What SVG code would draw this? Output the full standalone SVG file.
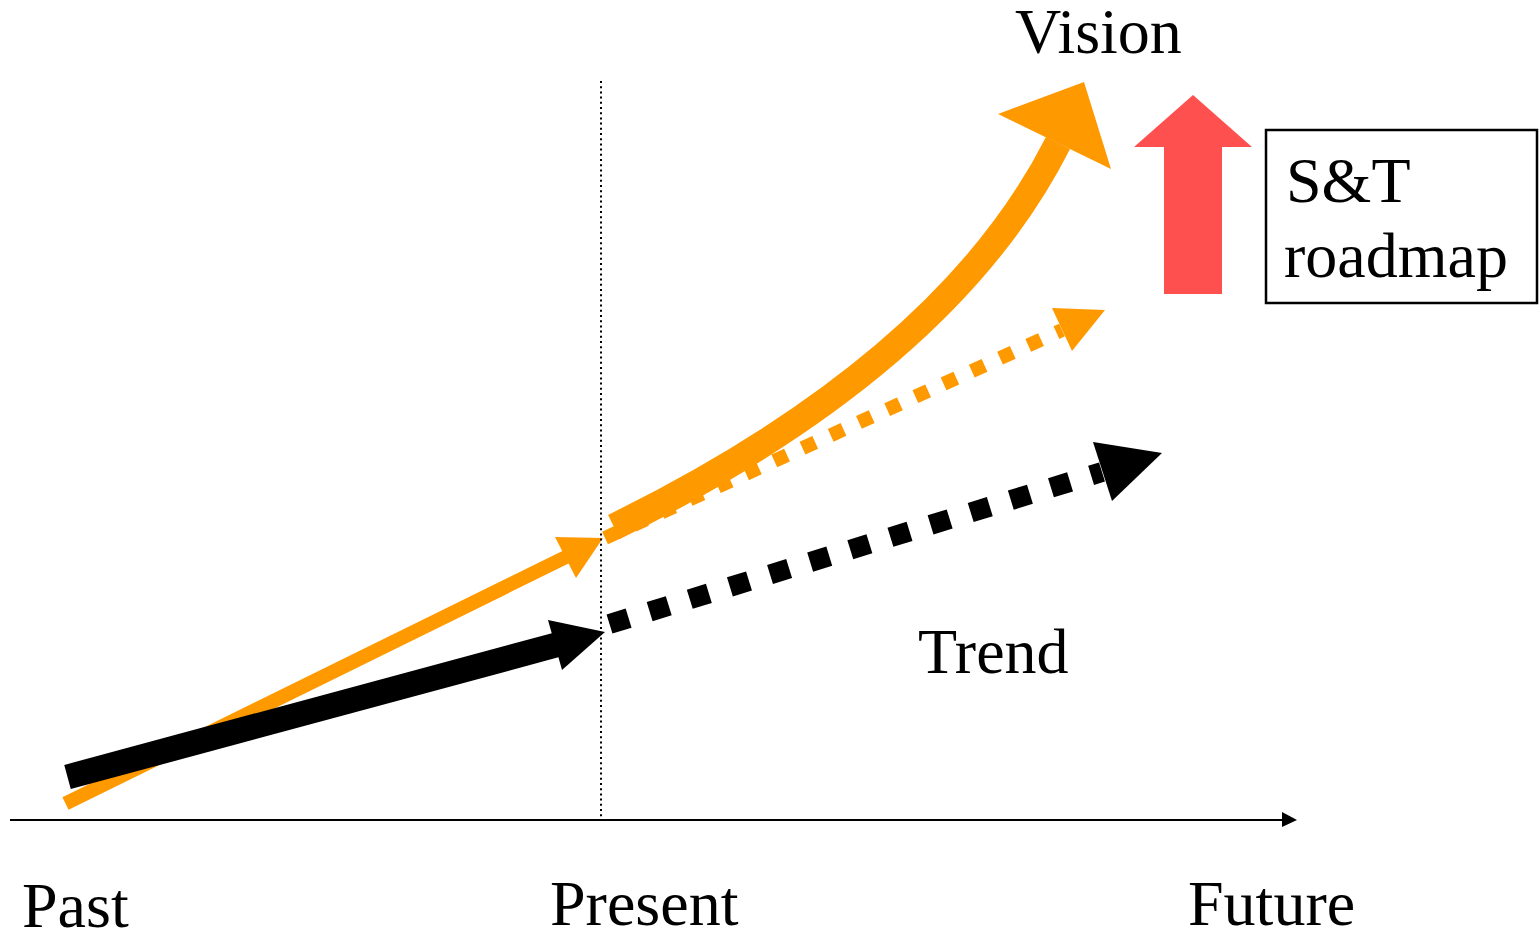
<svg xmlns="http://www.w3.org/2000/svg" width="1540" height="934" viewBox="0 0 1540 934">
<style>
.t{font-family:"Liberation Serif","Times New Roman",serif;font-size:64px;fill:#000}
.or{fill:#FF9900}
.bk{fill:#000}
</style>
<rect width="1540" height="934" fill="#fff"/>
<g id="connectors">
<line id="axis" x1="10" y1="820" x2="1284" y2="820" stroke="#000" stroke-width="2"/>
<polygon points="1282,812 1297,820 1282,827" class="bk"/>
<g id="orange-solid">
<line x1="65.5" y1="803.5" x2="566" y2="557" stroke="#FF9900" stroke-width="14"/>
<polygon points="603,538 576,578 555,537" class="or"/>
</g>
<g id="black-solid">
<line x1="67.5" y1="777" x2="556" y2="645" stroke="#000" stroke-width="25"/>
<polygon points="605,632 562,670 548,620" class="bk"/>
</g>
<g id="orange-dotted">
<line x1="605" y1="538" x2="1062" y2="330" stroke="#FF9900" stroke-width="14" stroke-dasharray="14 17"/>
<polygon points="1105,310 1072,351 1052,308" class="or"/>
</g>
<g id="black-dotted">
<line x1="609.5" y1="624" x2="1102" y2="472" stroke="#000" stroke-width="20" stroke-dasharray="20 22"/>
<polygon points="1162,453 1112,501 1093,442" class="bk"/>
</g>
<g id="orange-curve">
<path d="M614,527 Q947,363 1058,143" fill="none" stroke="#FF9900" stroke-width="27"/>
<polygon points="1084,82 1111,169 998,114" class="or"/>
</g>
<line id="present-line" x1="601" y1="81" x2="601" y2="820" stroke="#000" stroke-width="2" stroke-dasharray="2 3.2"/>
</g>
<g id="st-arrow">
<polygon points="1193,95 1252,147 1222,147 1222,294 1164,294 1164,147 1134,147" fill="#FF5050"/>
</g>
<g id="roadmap-box">
<rect x="1266" y="130" width="271" height="173" fill="#fff" stroke="#000" stroke-width="2.5"/>
<text class="t" x="1286" y="202">S&amp;T</text>
<text class="t" x="1284" y="277">roadmap</text>
</g>
<g id="labels">
<text class="t" x="1015" y="53">Vision</text>
<text class="t" x="918" y="673">Trend</text>
<text class="t" x="22" y="927">Past</text>
<text class="t" x="550" y="925">Present</text>
<text class="t" x="1188" y="925">Future</text>
</g>
</svg>
